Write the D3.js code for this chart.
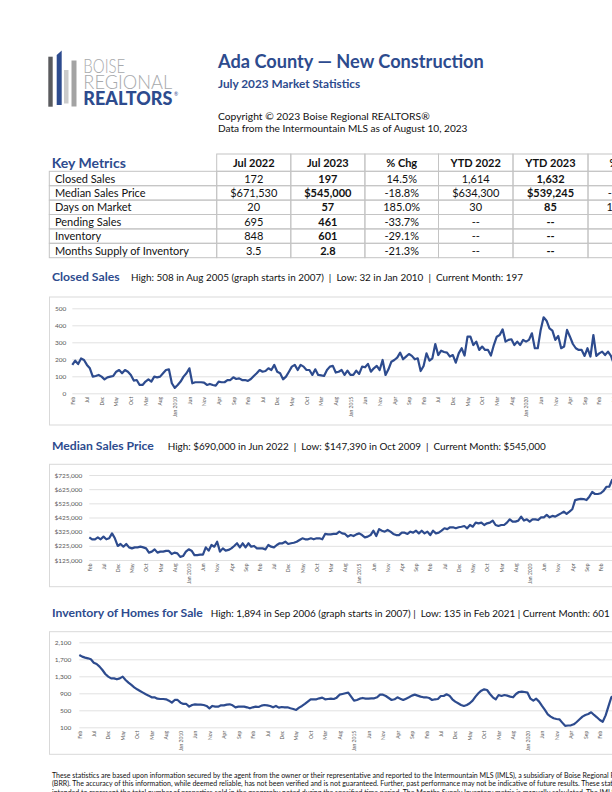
<!DOCTYPE html>
<html>
<head>
<meta charset="utf-8">
<script src="https://cdn.jsdelivr.net/npm/d3@7"></script>
<style>
  html, body { margin: 0; padding: 0; background: #fff; overflow: hidden; }
  svg { display: block; font-family: Lato, "Open Sans", sans-serif; }
</style>
</head>
<body>
<svg id="page" width="612" height="792"></svg>
<script>
// ---- data ----
// monthly categories, Feb 2007 .. Jul 2023
const months = d3.timeMonth.range(new Date(2007, 1, 1), new Date(2023, 7, 1));

const closedSales = [
  167, 192, 172, 205, 196, 167, 147, 98, 102, 108,
  98, 82, 94, 98, 102, 127, 137, 118, 137, 127,
  108, 75, 78, 49, 49, 69, 82, 69, 98, 94,
  98, 118, 137, 141, 59, 32, 49, 69, 98, 118,
  147, 59, 65, 65, 65, 63, 49, 55, 49, 45,
  69, 65, 65, 78, 78, 94, 84, 88, 78, 78,
  73, 84, 102, 118, 137, 127, 131, 147, 137, 167,
  127, 118, 82, 98, 127, 157, 167, 137, 167, 157,
  137, 137, 108, 141, 108, 105, 102, 137, 157, 161,
  122, 127, 137, 108, 133, 108, 108, 133, 114, 157,
  153, 173, 127, 147, 161, 137, 196, 108, 141, 186,
  196, 210, 239, 200, 216, 231, 220, 200, 206, 131,
  161, 235, 192, 206, 290, 225, 251, 243, 239, 216,
  225, 180, 235, 265, 222, 333, 333, 284, 304, 255,
  275, 255, 255, 222, 284, 333, 343, 376, 304, 314,
  318, 284, 304, 284, 314, 304, 314, 353, 265, 265,
  373, 447, 427, 382, 369, 314, 337, 265, 275, 373,
  333, 290, 265, 255, 255, 220, 265, 216, 343, 220,
  235, 245, 225, 245, 220, 172, 190, 150, 160, 150,
  170, 120, 150, 230, 210, 240, 220, 197
];

const medianPrice = [
  285000, 271000, 271000, 285000, 271000, 290000, 271000, 278000, 313000, 278000,
  224000, 238000, 219000, 238000, 214000, 207000, 214000, 214000, 219000, 214000,
  207000, 177000, 184000, 200000, 177000, 184000, 184000, 189000, 189000, 167000,
  177000, 172000, 147390, 153000, 184000, 200000, 191000, 160000, 160000, 163000,
  163000, 214000, 191000, 231000, 219000, 254000, 184000, 207000, 191000, 196000,
  207000, 224000, 243000, 214000, 243000, 214000, 243000, 219000, 224000, 207000,
  207000, 207000, 200000, 231000, 219000, 214000, 231000, 243000, 243000, 254000,
  238000, 243000, 247000, 254000, 266000, 278000, 271000, 271000, 278000, 271000,
  278000, 278000, 271000, 309000, 306000, 306000, 309000, 309000, 325000, 313000,
  309000, 290000, 301000, 294000, 306000, 313000, 301000, 285000, 290000, 301000,
  332000, 294000, 343000, 332000, 325000, 337000, 325000, 309000, 301000, 301000,
  318000, 318000, 309000, 325000, 318000, 332000, 313000, 332000, 313000, 325000,
  301000, 332000, 313000, 318000, 332000, 349000, 343000, 356000, 356000, 349000,
  356000, 360000, 365000, 349000, 372000, 360000, 389000, 384000, 389000, 372000,
  384000, 389000, 403000, 372000, 365000, 372000, 372000, 389000, 412000, 396000,
  396000, 403000, 431000, 403000, 412000, 396000, 412000, 412000, 407000, 426000,
  426000, 443000, 426000, 436000, 431000, 443000, 454000, 466000, 450000, 466000,
  483000, 548000, 553000, 557000, 555000, 548000, 572000, 605000, 591000, 591000,
  596000, 613000, 642000, 642000, 690000, 671530, 650000, 630000, 620000, 600000,
  590000, 580000, 560000, 550000, 540000, 550000, 545000, 545000
];

const inventory = [
  1801, 1762, 1739, 1723, 1700, 1621, 1590, 1527, 1448, 1354,
  1292, 1252, 1252, 1229, 1252, 1292, 1213, 1150, 1096, 1041,
  994, 955, 915, 876, 845, 806, 806, 774, 766, 766,
  759, 727, 680, 743, 743, 680, 649, 649, 586, 625,
  641, 633, 633, 625, 602, 547, 602, 586, 586, 617,
  617, 633, 641, 617, 570, 586, 586, 586, 570, 547,
  570, 586, 578, 610, 625, 617, 602, 570, 602, 563,
  578, 570, 570, 547, 531, 508, 563, 602, 649, 704,
  759, 759, 759, 782, 798, 759, 766, 774, 766, 798,
  868, 884, 900, 915, 821, 727, 743, 774, 790, 774,
  774, 782, 782, 806, 868, 868, 837, 790, 743, 759,
  806, 774, 743, 774, 806, 845, 868, 845, 821, 806,
  806, 790, 743, 759, 766, 837, 837, 876, 845, 759,
  704, 665, 625, 602, 625, 665, 727, 821, 900, 962,
  994, 978, 884, 806, 759, 860, 837, 860, 845, 821,
  806, 884, 931, 939, 931, 915, 774, 727, 774, 704,
  602, 508, 406, 351, 312, 296, 288, 210, 135, 142,
  147, 171, 225, 288, 351, 390, 414, 453, 390, 335,
  272, 230, 380, 600, 810, 848, 1000, 1150, 1250, 1230,
  1150, 1000, 900, 800, 700, 650, 620, 601
];

const closedTicks = [0, 100, 200, 300, 400, 500];
const priceTicks = [125000, 225000, 325000, 425000, 525000, 625000, 725000];
const inventoryTicks = [100, 500, 900, 1300, 1700, 2100];

// key metrics table
const tableHeaders = ['Jul 2022', 'Jul 2023', '% Chg', 'YTD 2022', 'YTD 2023', '% Chg'];
const metricNames = ['Closed Sales', 'Median Sales Price', 'Days on Market', 'Pending Sales', 'Inventory', 'Months Supply of Inventory'];
const jul2022 = ['172', '$671,530', '20', '695', '848', '3.5'];
const jul2023 = ['197', '$545,000', '57', '461', '601', '2.8'];
const monthChg = ['14.5%', '-18.8%', '185.0%', '-33.7%', '-29.1%', '-21.3%'];
const ytd2022 = ['1,614', '$634,300', '30', '--', '--', '--'];
const ytd2023 = ['1,632', '$539,245', '85', '--', '--', '--'];
const ytdChg = ['1.1%', '-15.0%', '183.3%', '--', '--', '--'];

const footerLines = [
  'These statistics are based upon information secured by the agent from the owner or their representative and reported to the Intermountain MLS (IMLS), a subsidiary of Boise Regional REALTORS®',
  '(BRR). The accuracy of this information, while deemed reliable, has not been verified and is not guaranteed. Further, past performance may not be indicative of future results. These statistics are not',
  'intended to represent the total number of properties sold in the geography noted during the specified time period. The Months Supply Inventory metric is manually calculated. The IMLS does not'
];

// ---- drawing ----
const BLUE = '#2d4b8e';
const GRID = '#d9d9d9';
const svg = d3.select('#page');

// logo
const logo = svg.append('g');
logo.append('rect').attr('x', 48.3).attr('y', 56.7).attr('width', 4.4).attr('height', 50).attr('fill', '#5a5b5e');
logo.append('polygon').attr('points', '56.7,55 61.7,50.5 61.7,105 56.7,105').attr('fill', BLUE);
logo.append('rect').attr('x', 64).attr('y', 70).attr('width', 4.5).attr('height', 33.5).attr('fill', '#cbcbcb');
logo.append('rect').attr('x', 71.5).attr('y', 60.5).attr('width', 5).attr('height', 46).attr('fill', '#a3a3a3');
logo.append('text').attr('x', 83.3).attr('y', 72.8).attr('textLength', 42).attr('lengthAdjust', 'spacingAndGlyphs')
  .style('font-size', '19px').style('font-weight', 300).attr('fill', '#a7a9ac').text('BOISE');
logo.append('text').attr('x', 83.3).attr('y', 89.3).attr('textLength', 89).attr('lengthAdjust', 'spacingAndGlyphs')
  .style('font-size', '19px').style('font-weight', 300).attr('fill', '#a7a9ac').text('REGIONAL');
logo.append('text').attr('x', 83.3).attr('y', 105.3).attr('textLength', 89).attr('lengthAdjust', 'spacingAndGlyphs')
  .style('font-size', '18px').style('font-weight', 900).attr('fill', BLUE).text('REALTORS');
logo.append('text').attr('x', 174).attr('y', 96).style('font-size', '5px').attr('fill', BLUE).text('®');

// header text
svg.append('text').attr('x', 218).attr('y', 68).style('font-size', '18.2px').style('font-weight', 700)
  .attr('fill', BLUE).text('Ada County — New Construction');
svg.append('text').attr('x', 218).attr('y', 88).style('font-size', '11.8px').style('font-weight', 700)
  .attr('fill', BLUE).text('July 2023 Market Statistics');
svg.append('text').attr('x', 218).attr('y', 119.5).style('font-size', '10.3px').attr('fill', '#111')
  .text('Copyright © 2023 Boise Regional REALTORS®');
svg.append('text').attr('x', 218).attr('y', 131.5).style('font-size', '10.1px').attr('fill', '#111')
  .text('Data from the Intermountain MLS as of August 10, 2023');

// table
const colEdges = [216.7, 290.8, 364.9, 438.5, 513, 588, 662];
const headTop = 154, rowTop = 171.3, rowH = 14.4;
const labelLeft = 49.3;
const columns = [jul2022, jul2023, monthChg, ytd2022, ytd2023, ytdChg];
const boldCols = [1, 4];
const table = svg.append('g');

table.append('text').attr('x', 51.7).attr('y', 168).style('font-size', '14px').style('font-weight', 700)
  .attr('fill', BLUE).text('Key Metrics');

// header cells
tableHeaders.forEach((h, c) => {
  table.append('rect').attr('x', colEdges[c]).attr('y', headTop)
    .attr('width', colEdges[c + 1] - colEdges[c]).attr('height', rowTop - headTop)
    .attr('fill', 'none').attr('stroke', '#c4c4c4').attr('stroke-width', 1);
  table.append('text').attr('x', (colEdges[c] + colEdges[c + 1]) / 2).attr('y', 167)
    .attr('text-anchor', 'middle').style('font-size', '11px').style('font-weight', 700)
    .attr('fill', '#111').text(h);
});

// body rows
metricNames.forEach((name, r) => {
  const top = rowTop + r * rowH;
  table.append('rect').attr('x', labelLeft).attr('y', top).attr('width', colEdges[0] - labelLeft).attr('height', rowH)
    .attr('fill', 'none').attr('stroke', '#c4c4c4');
  table.append('text').attr('x', 55).attr('y', top + 11.2).style('font-size', '11px').attr('fill', '#111').text(name);
  columns.forEach((col, c) => {
    table.append('rect').attr('x', colEdges[c]).attr('y', top).attr('width', colEdges[c + 1] - colEdges[c]).attr('height', rowH)
      .attr('fill', 'none').attr('stroke', '#c4c4c4');
    table.append('text').attr('x', (colEdges[c] + colEdges[c + 1]) / 2).attr('y', top + 11.2)
      .attr('text-anchor', 'middle').style('font-size', '11px')
      .style('font-weight', boldCols.includes(c) ? 700 : 400)
      .attr('fill', '#111').text(col[r]);
  });
});

// line charts
const fmtMon = d3.timeFormat('%b');
const fmtYear = d3.timeFormat('%b %Y');
const plotRight = 649;

function drawChart(cfg) {
  const g = svg.append('g');

  g.append('text').attr('x', 52).attr('y', cfg.titleY).style('font-size', '12.2px').style('font-weight', 700)
    .attr('fill', BLUE).text(cfg.title);
  g.append('text').attr('x', cfg.subX).attr('y', cfg.titleY).style('font-size', '9.9px')
    .attr('fill', '#111').attr('xml:space', 'preserve').text(cfg.subtitle);

  g.append('rect').attr('x', 49.5).attr('y', cfg.boxTop).attr('width', 700).attr('height', cfg.boxBottom - cfg.boxTop)
    .attr('fill', 'none').attr('stroke', GRID).attr('stroke-width', 1);

  const x = d3.scalePoint().domain(d3.range(months.length)).range([cfg.x0, plotRight]);
  const y = d3.scaleLinear().domain([cfg.ticks[0], cfg.ticks[cfg.ticks.length - 1]]).range([cfg.yBottom, cfg.yTop]);

  // y axis with gridlines
  g.append('g')
    .attr('transform', `translate(${cfg.x0},0)`)
    .call(d3.axisLeft(y).tickValues(cfg.ticks).tickSize(-(plotRight - cfg.x0)).tickPadding(cfg.pad).tickFormat(cfg.fmt))
    .call(a => a.select('.domain').remove())
    .call(a => a.selectAll('line').attr('stroke', GRID).attr('stroke-width', 0.8))
    .call(a => a.selectAll('text').attr('fill', '#595959').style('font-size', '6.5px').style('font-family', 'Lato, sans-serif'));

  // x axis, labels every five months
  g.append('g')
    .attr('transform', `translate(0,${cfg.yBottom})`)
    .call(d3.axisBottom(x).tickValues(d3.range(0, months.length, 5)).tickSize(0)
      .tickFormat(i => months[i].getMonth() === 0 ? fmtYear(months[i]) : fmtMon(months[i])))
    .call(a => a.select('.domain').remove())
    .call(a => a.selectAll('text')
      .attr('transform', 'rotate(-90)')
      .attr('x', -3.5).attr('y', 0).attr('dy', '0.35em')
      .attr('text-anchor', 'end')
      .attr('fill', '#595959').style('font-size', '5px').style('font-family', 'Lato, sans-serif'));

  g.append('path')
    .datum(cfg.values)
    .attr('d', d3.line().x((d, i) => x(i)).y(d => y(d)))
    .attr('fill', 'none')
    .attr('stroke', BLUE)
    .attr('stroke-width', 2.2)
    .attr('stroke-linejoin', 'round');
}

drawChart({
  title: 'Closed Sales',
  subtitle: 'High: 508 in Aug 2005 (graph starts in 2007)  |  Low: 32 in Jan 2010  |  Current Month: 197',
  titleY: 281, subX: 131,
  boxTop: 297, boxBottom: 425,
  x0: 72.3, yTop: 308.3, yBottom: 393.3, pad: 6,
  ticks: closedTicks, fmt: d3.format(','),
  values: closedSales
});

drawChart({
  title: 'Median Sales Price',
  subtitle: 'High: $690,000 in Jun 2022  |  Low: $147,390 in Oct 2009  |  Current Month: $545,000',
  titleY: 449.5, subX: 167.7,
  boxTop: 464.3, boxBottom: 586.7,
  x0: 89.3, yTop: 475, yBottom: 560, pad: 7,
  ticks: priceTicks, fmt: v => '$' + d3.format(',')(v),
  values: medianPrice
});

drawChart({
  title: 'Inventory of Homes for Sale',
  subtitle: 'High: 1,894 in Sep 2006 (graph starts in 2007) |  Low: 135 in Feb 2021 | Current Month: 601',
  titleY: 616.7, subX: 210.7,
  boxTop: 631.7, boxBottom: 754.3,
  x0: 79.3, yTop: 642.3, yBottom: 727.3, pad: 8,
  ticks: inventoryTicks, fmt: d3.format(','),
  values: inventory
});

// footer disclaimer
svg.append('g').selectAll('text')
  .data(footerLines)
  .enter()
  .append('text')
  .attr('x', 52)
  .attr('y', (d, i) => 777.5 + i * 8.6)
  .style('font-size', '7px')
  .attr('fill', '#111')
  .text(d => d);
</script>
</body>
</html>
